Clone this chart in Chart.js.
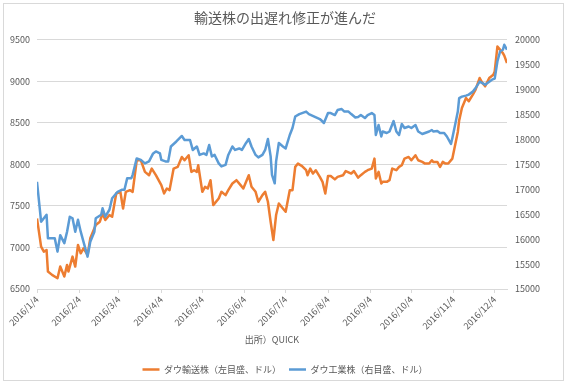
<!DOCTYPE html>
<html lang="ja">
<head>
<meta charset="utf-8">
<title>輸送株の出遅れ修正が進んだ</title>
<script src="https://cdn.jsdelivr.net/npm/chart.js@4.4.1/dist/chart.umd.min.js"></script>
<style>
  html, body { margin: 0; padding: 0; background: #fff; }
  canvas { display: block; }
</style>
</head>
<body>
<canvas id="stockChart" width="570" height="384"></canvas>
<script>
'use strict';

// x values are day of year 2016 (1 = 1/1)
const monthTicks = [4, 35, 64, 95, 125, 156, 186, 217, 248, 278, 309, 339];
const monthLabels = ['2016/1/4', '2016/2/4', '2016/3/4', '2016/4/4', '2016/5/4', '2016/6/4',
    '2016/7/4', '2016/8/4', '2016/9/4', '2016/10/4', '2016/11/4', '2016/12/4'];

const leftTicks = [6500, 7000, 7500, 8000, 8500, 9000, 9500];
const rightTicks = [15000, 15500, 16000, 16500, 17000, 17500, 18000, 18500, 19000, 19500, 20000];

// ダウ輸送株 (left axis)
const transDays = [4, 7, 9, 11, 12, 15, 19, 21, 24, 26, 27, 30, 32, 34, 36, 38, 41, 43, 47, 50,
    52, 54, 57, 59, 62, 65, 67, 69, 72, 74, 77, 80, 83, 86, 88, 91, 95, 97, 99, 101,
    104, 107, 110, 112, 115, 117, 119, 121, 122, 125, 127, 129, 131, 133, 137, 139, 142, 144, 147, 150,
    153, 155, 159, 161, 164, 166, 169, 171, 173, 175, 177, 179, 181, 184, 186, 189, 191, 193, 195, 198,
    201, 202, 204, 206, 208, 211, 213, 215, 217, 219, 222, 224, 228, 230, 234, 236, 239, 241, 244, 246,
    249, 251, 252, 254, 256, 257, 260, 262, 264, 267, 269, 271, 273, 276, 278, 281, 283, 286, 288, 291,
    293, 294, 297, 299, 301, 303, 305, 308, 310, 312, 313, 315, 318, 320, 323, 325, 328, 330, 332, 335,
    338, 339, 341, 343, 345, 346, 348];
const transValues = [7350, 7010, 6950, 6970, 6710, 6670, 6630, 6770, 6650, 6790, 6710, 6890, 6770, 7030, 6930, 6990, 6910, 7110, 7270, 7310,
    7410, 7330, 7390, 7370, 7650, 7670, 7470, 7670, 7690, 7670, 8050, 8050, 7910, 7870, 7950, 7870, 7750, 7650, 7710, 7690,
    7950, 7970, 8090, 8050, 8110, 7910, 7930, 7910, 7990, 7670, 7730, 7710, 7810, 7510, 7590, 7670, 7630, 7690, 7770, 7810,
    7750, 7710, 7870, 7730, 7670, 7550, 7630, 7670, 7550, 7310, 7090, 7390, 7530, 7470, 7430, 7690, 7690, 7970, 8010, 7980,
    7930, 7870, 7950, 7890, 7930, 7850, 7790, 7650, 7860, 7860, 7820, 7850, 7870, 7920, 7890, 7920, 7840, 7870, 7910, 7930,
    7950, 8070, 7830, 7910, 7770, 7790, 7790, 7810, 7950, 7930, 7970, 7990, 8070, 8090, 8050, 8110, 8050, 8030, 8010, 8010,
    8050, 8030, 8030, 7970, 8030, 8010, 8010, 8070, 8230, 8390, 8530, 8680, 8800, 8760, 8840, 8900, 9040, 8980, 8940, 9040,
    9080, 9120, 9420, 9380, 9340, 9310, 9220];

// ダウ工業株 (right axis)
const indDays = [4, 7, 9, 11, 12, 15, 17, 19, 21, 24, 26, 28, 30, 32, 34, 36, 38, 41, 43, 46,
    47, 51, 52, 54, 57, 59, 63, 66, 68, 70, 73, 74, 77, 80, 83, 86, 89, 91, 94, 95,
    98, 100, 102, 106, 110, 112, 116, 118, 121, 123, 126, 128, 130, 132, 134, 137, 139, 142, 144, 147,
    149, 152, 154, 157, 159, 161, 164, 166, 169, 171, 173, 175, 176, 178, 179, 181, 184, 186, 189, 191,
    193, 196, 198, 201, 203, 207, 211, 213, 214, 217, 219, 222, 224, 227, 229, 232, 234, 237, 239, 241,
    244, 246, 249, 251, 252, 254, 256, 257, 260, 262, 265, 267, 269, 271, 273, 276, 278, 281, 283, 286,
    288, 291, 293, 294, 297, 299, 302, 304, 307, 308, 310, 312, 313, 315, 318, 320, 323, 325, 328, 330,
    332, 335, 337, 339, 341, 343, 345, 346, 348];
const indValues = [17150, 16350, 16420, 16490, 16020, 16020, 16020, 15750, 16080, 15920, 16150, 16450, 16420, 16150, 16390, 16150, 15950, 15650, 15950, 16150,
    16420, 16490, 16620, 16450, 16590, 16820, 16950, 16990, 16990, 17220, 17220, 17290, 17620, 17590, 17520, 17560, 17720, 17760, 17720, 17590,
    17560, 17560, 17860, 17960, 18070, 17990, 17990, 17790, 17860, 17690, 17720, 17690, 17890, 17660, 17690, 17520, 17460, 17490, 17690, 17860,
    17790, 17820, 17790, 17930, 18010, 17860, 17690, 17640, 17690, 17790, 18010, 17660, 17290, 17120, 17560, 17930, 17860, 17820, 18090, 18230,
    18460, 18510, 18530, 18560, 18510, 18460, 18410, 18360, 18330, 18530, 18530, 18490, 18590, 18610, 18560, 18560, 18510, 18440, 18450, 18490,
    18430, 18490, 18530, 18490, 18090, 18290, 18060, 18160, 18130, 18160, 18370, 18160, 18090, 18310, 18230, 18260, 18230, 18290, 18160, 18110,
    18130, 18160, 18190, 18160, 18170, 18130, 18130, 18060, 17910, 18030, 18290, 18560, 18830, 18860, 18880, 18900, 18960, 19030, 19160, 19130,
    19100, 19160, 19200, 19220, 19570, 19770, 19800, 19900, 19800];

const FONT = '"Noto Sans CJK JP", "Noto Sans", sans-serif';
const TEXT = '#595959';
const GRID = '#d9d9d9';

const toPoints = (days, values) => days.map((d, i) => ({x: d, y: values[i]}));

// white background + light frame round the chart area
const chartFrame = {
    id: 'chartFrame',
    beforeDraw(chart) {
        const ctx = chart.ctx;
        ctx.save();
        ctx.fillStyle = '#fff';
        ctx.fillRect(0, 0, chart.width, chart.height);
        ctx.strokeStyle = GRID;
        ctx.lineWidth = 1;
        ctx.strokeRect(3.5, 3.5, 560, 377);
        ctx.restore();
    }
};

new Chart('stockChart', {
    type: 'line',
    data: {
        datasets: [{
            label: 'ダウ輸送株（左目盛、ドル）',
            data: toPoints(transDays, transValues),
            yAxisID: 'yLeft',
            borderColor: '#ed7d31',
            backgroundColor: '#ed7d31',
            borderWidth: 2.5,
            pointRadius: 0,
            borderJoinStyle: 'round',
            order: 1
        }, {
            label: 'ダウ工業株（右目盛、ドル）',
            data: toPoints(indDays, indValues),
            yAxisID: 'yRight',
            borderColor: '#5b9bd5',
            backgroundColor: '#5b9bd5',
            borderWidth: 2.5,
            pointRadius: 0,
            borderJoinStyle: 'round',
            order: 0
        }]
    },
    options: {
        responsive: false,
        animation: false,
        layout: {padding: {left: 0, right: 0, top: 0, bottom: 0}},
        scales: {
            x: {
                type: 'linear',
                min: 4,
                max: 348,
                afterBuildTicks: (scale) => {
                    scale.ticks = monthTicks.map(v => ({value: v}));
                },
                afterFit: (scale) => { scale.height = 68; },
                ticks: {
                    autoSkip: false,
                    minRotation: 45,
                    maxRotation: 45,
                    padding: 1,
                    color: TEXT,
                    font: {size: 9, family: FONT},
                    callback: (value, index) => monthLabels[index]
                },
                grid: {drawOnChartArea: false, color: GRID, tickLength: 4},
                border: {color: GRID},
                title: {
                    display: true,
                    text: '出所）QUICK',
                    color: TEXT,
                    font: {size: 9, family: FONT},
                    padding: {top: 4, bottom: 12}
                }
            },
            yLeft: {
                type: 'linear',
                position: 'left',
                min: 6500,
                max: 9500,
                afterBuildTicks: (scale) => {
                    scale.ticks = leftTicks.map(v => ({value: v}));
                },
                afterFit: (scale) => { scale.width = 37; },
                ticks: {
                    padding: 7,
                    color: TEXT,
                    font: {size: 9, family: FONT},
                    callback: (value) => String(value)
                },
                grid: {color: GRID, drawTicks: false},
                border: {display: false}
            },
            yRight: {
                type: 'linear',
                position: 'right',
                min: 15000,
                max: 20000,
                afterBuildTicks: (scale) => {
                    scale.ticks = rightTicks.map(v => ({value: v}));
                },
                afterFit: (scale) => { scale.width = 63; },
                ticks: {
                    padding: 8,
                    color: TEXT,
                    font: {size: 9, family: FONT},
                    callback: (value) => String(value)
                },
                grid: {drawOnChartArea: false, drawTicks: false},
                border: {display: false}
            }
        },
        plugins: {
            title: {
                display: true,
                text: '輸送株の出遅れ修正が進んだ',
                color: TEXT,
                font: {size: 14, weight: 'normal', family: FONT},
                padding: {top: 9, bottom: 14}
            },
            legend: {
                position: 'bottom',
                labels: {
                    usePointStyle: true,
                    pointStyle: 'line',
                    pointStyleWidth: 17,
                    padding: 8,
                    color: TEXT,
                    font: {size: 9, family: FONT},
                    sort: (a, b) => a.datasetIndex - b.datasetIndex
                }
            },
            tooltip: {enabled: false}
        }
    },
    plugins: [chartFrame]
});
</script>
</body>
</html>
